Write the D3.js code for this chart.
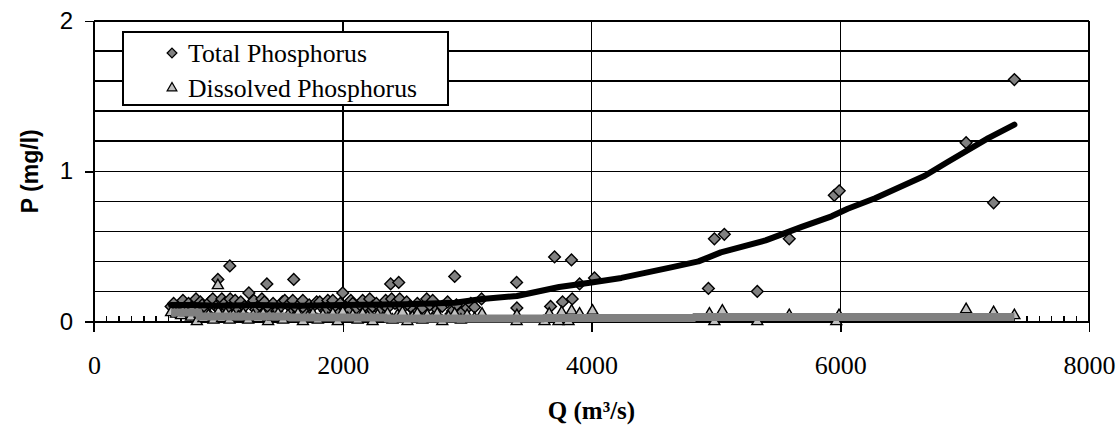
<!DOCTYPE html>
<html>
<head>
<meta charset="utf-8">
<script src="https://cdn.jsdelivr.net/npm/d3@7"></script>
<style>
  html, body { margin: 0; padding: 0; background: #fff; }
  svg { display: block; }
</style>
</head>
<body>
<svg id="chart" width="1118" height="430"></svg>
<script>
// Total phosphorus samples: discharge (m3/s) and concentration (mg/l)
const tpQ = [620, 640, 660, 680, 700, 715, 730, 760, 775, 790, 820, 840, 855, 870, 900, 915, 930, 955, 980, 996,
  1010, 1028, 1040, 1050, 1070, 1092, 1095, 1120, 1135, 1150, 1180, 1195, 1210, 1245, 1270, 1285, 1300, 1330, 1350, 1370,
  1390, 1410, 1425, 1440, 1470, 1500, 1515, 1534, 1560, 1580, 1598, 1606, 1630, 1660, 1679, 1700, 1715, 1730, 1760, 1790,
  1815, 1840, 1860, 1880, 1900, 1920, 1950, 1965, 1980, 2000, 2020, 2050, 2065, 2080, 2110, 2140, 2160, 2190, 2205, 2217,
  2240, 2270, 2300, 2330, 2345, 2360, 2385, 2393, 2420, 2450, 2458, 2480, 2514, 2540, 2570, 2585, 2600, 2640, 2675, 2700,
  2723, 2760, 2800, 2843, 2870, 2883, 2900, 2914, 2956, 3000, 3030, 3060, 3116, 3398, 3400, 3671, 3703, 3767, 3839, 3845,
  3904, 4024, 4940, 4988, 5068, 5333, 5590, 5952, 5992, 7012, 7233, 7400];
const tpP = [0.10, 0.12, 0.06, 0.09, 0.11, 0.14, 0.08, 0.12, 0.05, 0.10, 0.15, 0.07, 0.13, 0.11, 0.09, 0.05, 0.13, 0.15, 0.10, 0.28,
  0.08, 0.15, 0.05, 0.12, 0.09, 0.37, 0.15, 0.11, 0.14, 0.07, 0.13, 0.05, 0.10, 0.19, 0.12, 0.14, 0.08, 0.11, 0.15, 0.13,
  0.25, 0.09, 0.05, 0.12, 0.07, 0.10, 0.13, 0.14, 0.11, 0.05, 0.14, 0.28, 0.09, 0.12, 0.14, 0.08, 0.05, 0.11, 0.10, 0.13,
  0.13, 0.09, 0.07, 0.14, 0.11, 0.14, 0.09, 0.05, 0.12, 0.19, 0.10, 0.07, 0.14, 0.12, 0.09, 0.11, 0.14, 0.08, 0.05, 0.15,
  0.10, 0.12, 0.07, 0.11, 0.14, 0.09, 0.25, 0.15, 0.12, 0.26, 0.15, 0.09, 0.13, 0.10, 0.08, 0.05, 0.12, 0.09, 0.15, 0.11,
  0.14, 0.08, 0.10, 0.13, 0.05, 0.07, 0.30, 0.11, 0.06, 0.09, 0.12, 0.095, 0.15, 0.26, 0.09, 0.10, 0.43, 0.13, 0.41, 0.15,
  0.25, 0.29, 0.22, 0.55, 0.58, 0.20, 0.55, 0.84, 0.87, 1.19, 0.79, 1.61];

// Dissolved phosphorus samples
const dpQ = [620, 660, 700, 740, 780, 827, 850, 880, 920, 960, 996, 1000, 1030, 1060, 1090, 1120, 1160, 1200, 1240, 1280,
  1320, 1360, 1400, 1440, 1480, 1520, 1560, 1600, 1640, 1680, 1720, 1760, 1800, 1840, 1880, 1920, 1960, 2000, 2040, 2080,
  2120, 2160, 2200, 2240, 2280, 2320, 2360, 2400, 2440, 2480, 2520, 2560, 2600, 2640, 2680, 2720, 2760, 2800, 2850, 2900,
  2950, 3000, 3060, 3120, 3398, 3400, 3622, 3660, 3735, 3760, 3815, 3840, 3904, 4008, 4948, 4988, 5052, 5333, 5590, 5968,
  5990, 7012, 7233, 7400];
const dpP = [0.06, 0.05, 0.04, 0.06, 0.03, 0.00, 0.05, 0.02, 0.04, 0.01, 0.24, 0.06, 0.02, 0.05, 0.01, 0.04, 0.03, 0.05, 0.01, 0.04,
  0.02, 0.05, 0.00, 0.03, 0.05, 0.01, 0.04, 0.02, 0.05, 0.00, 0.03, 0.05, 0.01, 0.04, 0.02, 0.05, 0.00, 0.06, 0.02, 0.04,
  0.01, 0.05, 0.03, 0.00, 0.04, 0.02, 0.05, 0.01, 0.04, 0.06, 0.00, 0.03, 0.05, 0.01, 0.04, 0.02, 0.05, 0.00, 0.03, 0.05,
  0.01, 0.04, 0.02, 0.05, 0.00, 0.04, 0.00, 0.05, 0.00, 0.06, 0.00, 0.07, 0.05, 0.07, 0.05, 0.00, 0.07, 0.00, 0.04, 0.00,
  0.04, 0.08, 0.06, 0.04];

// Fitted curves evaluated at sorted discharge values
const tpFitQ = [620, 800, 1000, 1300, 1650, 2000, 2500, 2900, 3120, 3400, 3740, 4000, 4240, 4640, 4860, 5040, 5400, 5690,
  5930, 6060, 6280, 6680, 6860, 7190, 7400];
const tpFitP = [0.11, 0.11, 0.105, 0.11, 0.105, 0.11, 0.115, 0.125, 0.15, 0.17, 0.23, 0.26, 0.29, 0.36, 0.40, 0.46, 0.54, 0.63,
  0.70, 0.75, 0.82, 0.97, 1.06, 1.22, 1.31];
const dpFitQ = [620, 840, 850, 1560, 1575, 2340, 2350, 3610, 3620, 4820, 4830, 7400];
const dpFitP = [0.06, 0.06, 0.033, 0.033, 0.027, 0.027, 0.02, 0.02, 0.023, 0.023, 0.03, 0.03];

const xTicks = [0, 2000, 4000, 6000, 8000];
const yTicks = [0, 1, 2];
const legendLabels = ["Total Phosphorus", "Dissolved Phosphorus"];

const svg = d3.select("#chart");
const plotLeft = 94, plotRight = 1089, plotTop = 21, plotBottom = 321.5;

const x = d3.scaleLinear().domain([0, 8000]).range([plotLeft, plotRight]);
const y = d3.scaleLinear().domain([0, 2]).range([plotBottom, plotTop]);

const serif = "'Liberation Serif', 'Times New Roman', serif";
const sans = "'Liberation Sans', Arial, sans-serif";

// Horizontal grid every 0.2 mg/l
const gridY = d3.range(0.2, 2.01, 0.2);
svg.append("g").attr("shape-rendering", "crispEdges")
  .selectAll("line").data(gridY).join("line")
  .attr("x1", plotLeft).attr("x2", plotRight)
  .attr("y1", d => y(d)).attr("y2", d => y(d))
  .attr("stroke", "#000").attr("stroke-width", 1.5);

// Vertical grid at major x ticks
svg.append("g").attr("shape-rendering", "crispEdges")
  .selectAll("line").data(xTicks.slice(1)).join("line")
  .attr("x1", d => x(d)).attr("x2", d => x(d))
  .attr("y1", plotTop).attr("y2", plotBottom)
  .attr("stroke", "#000").attr("stroke-width", 1.5);

// Minor x ticks (inside, every 100)
const minor = d3.range(100, 8000, 100).filter(d => d % 2000 !== 0);
svg.append("g").attr("shape-rendering", "crispEdges")
  .selectAll("line").data(minor).join("line")
  .attr("x1", d => x(d)).attr("x2", d => x(d))
  .attr("y1", plotBottom).attr("y2", plotBottom - 6)
  .attr("stroke", "#000").attr("stroke-width", 1.5);

// X axis
const xAxis = d3.axisBottom(x).tickValues(xTicks).tickSize(10).tickPadding(24).tickFormat(d3.format("d"));
const gx = svg.append("g").attr("transform", `translate(0,${plotBottom})`).attr("shape-rendering", "crispEdges").call(xAxis);
gx.select(".domain").attr("stroke-width", 2).attr("d", `M${plotLeft},0H${plotRight}`);
gx.selectAll(".tick line").attr("stroke-width", 1.5);
gx.selectAll(".tick text").attr("font-family", serif).attr("font-size", 26).attr("fill", "#000");

// Y axis
const yAxis = d3.axisLeft(y).tickValues(yTicks).tickSize(9).tickPadding(12).tickFormat(d3.format("d"));
const gy = svg.append("g").attr("transform", `translate(${plotLeft},0)`).attr("shape-rendering", "crispEdges").call(yAxis);
gy.select(".domain").attr("stroke-width", 2).attr("d", `M0,${plotTop}V${plotBottom + 10}`);
gy.selectAll(".tick line").attr("stroke-width", 1.5);
gy.selectAll(".tick text").attr("font-family", sans).attr("font-size", 24).attr("fill", "#000");

// Markers
const diamond = d3.symbol().type(d3.symbolDiamond2).size(88);
const triangle = d3.symbol().type(d3.symbolTriangle).size(52);

const tpData = tpQ.map((q, i) => [q, tpP[i]]);
const dpData = dpQ.map((q, i) => [q, dpP[i]]);

svg.append("g").selectAll("path").data(tpData).join("path")
  .attr("d", diamond)
  .attr("transform", d => `translate(${x(d[0])},${y(d[1])})`)
  .attr("fill", "#808080").attr("stroke", "#000").attr("stroke-width", 1.4);

svg.append("g").selectAll("path").data(dpData).join("path")
  .attr("d", triangle)
  .attr("transform", d => `translate(${x(d[0])},${y(d[1])})`)
  .attr("fill", "#c0c0c0").attr("stroke", "#000").attr("stroke-width", 1.4);

// Trend lines
const line = d3.line().x(d => x(d[0])).y(d => y(d[1]));
svg.append("path").datum(tpFitQ.map((q, i) => [q, tpFitP[i]]))
  .attr("d", line).attr("fill", "none").attr("stroke", "#000")
  .attr("stroke-width", 6).attr("stroke-linejoin", "round").attr("stroke-linecap", "round");
svg.append("path").datum(dpFitQ.map((q, i) => [q, dpFitP[i]]))
  .attr("d", line).attr("fill", "none").attr("stroke", "#808080")
  .attr("stroke-width", 8).attr("stroke-linejoin", "miter");

// Legend
const lg = svg.append("g");
lg.append("rect").attr("x", 123).attr("y", 32).attr("width", 325).attr("height", 73)
  .attr("shape-rendering", "crispEdges")
  .attr("fill", "#fff").attr("stroke", "#000").attr("stroke-width", 1.5);
const rows = lg.selectAll("g.row").data(legendLabels).join("g").attr("class", "row")
  .attr("transform", (d, i) => `translate(172,${53 + i * 35})`);
rows.append("path")
  .attr("d", (d, i) => i === 0 ? d3.symbol().type(d3.symbolDiamond2).size(60)() : d3.symbol().type(d3.symbolTriangle).size(40)())
  .attr("fill", (d, i) => i === 0 ? "#808080" : "#c0c0c0")
  .attr("stroke", "#000").attr("stroke-width", 1.3);
rows.append("text").attr("x", 16).attr("dy", "0.35em")
  .attr("font-family", serif).attr("font-size", 26).attr("fill", "#000")
  .attr("textLength", (d, i) => i === 0 ? 179 : 229).attr("lengthAdjust", "spacingAndGlyphs")
  .text(d => d);

// Axis titles
svg.append("text").attr("x", (plotLeft + plotRight) / 2).attr("y", 419).attr("text-anchor", "middle")
  .attr("font-family", serif).attr("font-weight", "bold").attr("font-size", 25).attr("fill", "#000")
  .text("Q (m³/s)");
svg.append("text").attr("transform", `translate(38,${(plotTop + plotBottom) / 2}) rotate(-90)`)
  .attr("text-anchor", "middle")
  .attr("font-family", sans).attr("font-weight", "bold").attr("font-size", 23).attr("fill", "#000")
  .text("P (mg/l)");
</script>
</body>
</html>
